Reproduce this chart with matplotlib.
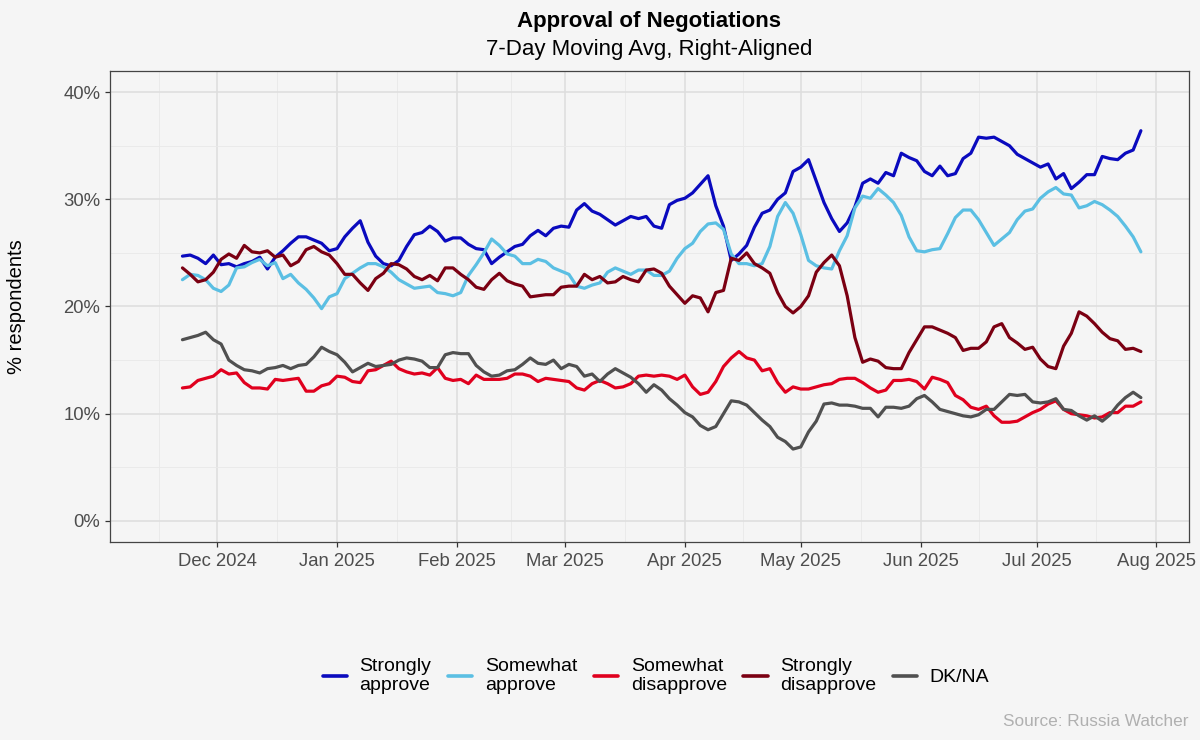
import numpy as np
import pandas as pd
import matplotlib
matplotlib.use("Agg")
import matplotlib.pyplot as plt
import matplotlib.dates as mdates
from matplotlib.ticker import FixedLocator, FuncFormatter

plt.rcParams['font.family'] = ['Liberation Sans', 'DejaVu Sans']

# ---------------- data (7-day moving average, % respondents) ----------------
start_date = "2024-11-22"
step_days = 2

strongly_approve = [
    24.7, 24.8, 24.5, 24.0, 24.8, 23.9, 24.0, 23.7, 24.0, 24.2, 24.6, 23.5, 24.6, 25.2,
    25.9, 26.5, 26.5, 26.2, 25.9, 25.2, 25.4, 26.5, 27.3, 28.0, 26.0, 24.7, 24.0, 23.8, 24.3, 25.6, 26.7, 26.9,
    27.5, 27.0, 26.1, 26.4, 26.4, 25.8, 25.4, 25.3, 24.0, 24.6, 25.1, 25.6, 25.8, 26.6, 27.1, 26.6, 27.3, 27.5, 27.4,
    29.0, 29.6, 28.9, 28.6, 28.1, 27.6, 28.0, 28.4, 28.2, 28.4, 27.5, 27.3, 29.5, 29.9, 30.1, 30.6, 31.4,
    32.2, 29.4, 27.5, 24.3, 24.9, 25.7, 27.4, 28.7, 29.0, 30.0, 30.6, 32.6, 33.0, 33.7, 31.7, 29.7, 28.2, 27.0,
    27.8, 29.3, 31.5, 31.9, 31.5, 32.5, 32.2, 34.3, 33.9, 33.6, 32.6, 32.2, 33.1, 32.2, 32.4, 33.8, 34.3, 35.8, 35.7,
    35.8, 35.4, 35.0, 34.2, 33.8, 33.4, 33.0, 33.3, 31.9, 32.4, 31.0, 31.6, 32.3, 32.3, 34.0, 33.8, 33.7, 34.3, 34.6, 36.4,
]

somewhat_approve = [
    22.5, 23.0, 22.9, 22.5, 21.7, 21.4, 22.0, 23.6, 23.7, 24.1, 24.4, 23.8, 24.1, 22.6,
    23.0, 22.2, 21.6, 20.8, 19.8, 20.9, 21.2, 22.6, 23.1, 23.6, 24.0, 24.0, 23.7, 23.2, 22.5, 22.1, 21.7, 21.8,
    21.9, 21.3, 21.2, 21.0, 21.3, 22.9, 23.9, 25.0, 26.3, 25.7, 24.9, 24.7, 24.0, 24.0, 24.4, 24.2, 23.6, 23.3, 23.0,
    21.9, 21.7, 22.0, 22.2, 23.2, 23.6, 23.3, 23.0, 23.4, 23.4, 22.9, 22.9, 23.3, 24.5, 25.4, 25.9, 27.0,
    27.7, 27.8, 27.2, 24.9, 24.0, 24.0, 23.8, 24.0, 25.6, 28.4, 29.7, 28.7, 26.7, 24.3, 23.8, 23.6, 23.5, 25.2,
    26.6, 29.2, 30.3, 30.1, 31.0, 30.4, 29.7, 28.5, 26.5, 25.2, 25.1, 25.3, 25.4, 26.8, 28.3, 29.0, 29.0, 28.1, 26.9,
    25.7, 26.3, 26.9, 28.1, 28.9, 29.1, 30.1, 30.7, 31.1, 30.5, 30.4, 29.2, 29.4, 29.8, 29.5, 29.0, 28.4, 27.5, 26.5, 25.1,
]

somewhat_disapprove = [
    12.4, 12.5, 13.1, 13.3, 13.5, 14.1, 13.7, 13.8, 12.9, 12.4, 12.4, 12.3, 13.2, 13.1,
    13.2, 13.3, 12.1, 12.1, 12.6, 12.8, 13.5, 13.4, 13.0, 12.9, 14.0, 14.1, 14.5, 14.9, 14.2, 13.9, 13.7, 13.8,
    13.6, 14.3, 13.3, 13.1, 13.2, 12.8, 13.6, 13.2, 13.2, 13.2, 13.3, 13.7, 13.7, 13.5, 13.0, 13.3, 13.2, 13.1, 13.0,
    12.4, 12.2, 12.8, 13.1, 12.8, 12.4, 12.5, 12.8, 13.5, 13.6, 13.5, 13.6, 13.5, 13.2, 13.6, 12.5, 11.8,
    12.0, 13.0, 14.4, 15.2, 15.8, 15.2, 15.0, 14.0, 14.2, 12.9, 12.0, 12.5, 12.3, 12.3, 12.5, 12.7, 12.8, 13.2,
    13.3, 13.3, 12.9, 12.4, 12.0, 12.2, 13.1, 13.1, 13.2, 13.0, 12.3, 13.4, 13.2, 12.9, 11.7, 11.3, 10.6, 10.4, 10.7,
    9.8, 9.2, 9.2, 9.3, 9.7, 10.1, 10.4, 10.9, 11.2, 10.4, 10.0, 9.9, 9.8, 9.6, 9.7, 10.1, 10.1, 10.7, 10.7, 11.1,
]

strongly_disapprove = [
    23.6, 23.0, 22.3, 22.5, 23.2, 24.4, 24.9, 24.5, 25.7, 25.1, 25.0, 25.2, 24.6, 24.8,
    23.8, 24.2, 25.3, 25.6, 25.1, 24.8, 24.0, 23.0, 23.0, 22.2, 21.5, 22.6, 23.1, 24.0, 23.9, 23.5, 22.8, 22.5,
    22.9, 22.4, 23.6, 23.6, 23.0, 22.5, 21.8, 21.6, 22.5, 23.1, 22.4, 22.1, 21.9, 20.9, 21.0, 21.1, 21.1, 21.8, 21.9,
    21.9, 23.0, 22.5, 22.8, 22.2, 22.3, 22.8, 22.5, 22.3, 23.4, 23.5, 23.1, 21.9, 21.1, 20.3, 21.0, 20.8,
    19.5, 21.3, 21.5, 24.5, 24.3, 25.0, 24.0, 23.6, 23.1, 21.3, 20.0, 19.4, 20.0, 21.0, 23.2, 24.1, 24.8, 23.8,
    21.0, 17.1, 14.8, 15.1, 14.9, 14.3, 14.2, 14.2, 15.7, 16.9, 18.1, 18.1, 17.8, 17.5, 17.1, 15.9, 16.1, 16.1, 16.7,
    18.1, 18.4, 17.1, 16.6, 16.0, 16.2, 15.1, 14.4, 14.2, 16.3, 17.5, 19.5, 19.1, 18.4, 17.6, 17.0, 16.8, 16.0, 16.1, 15.8,
]

dk_na = [
    16.9, 17.1, 17.3, 17.6, 16.9, 16.5, 15.0, 14.5, 14.1, 14.0, 13.8, 14.2, 14.3, 14.5,
    14.2, 14.5, 14.6, 15.3, 16.2, 15.8, 15.5, 14.8, 13.9, 14.3, 14.7, 14.4, 14.5, 14.6, 15.0, 15.2, 15.1, 14.9,
    14.3, 14.3, 15.5, 15.7, 15.6, 15.6, 14.5, 13.9, 13.5, 13.6, 14.0, 14.1, 14.6, 15.2, 14.7, 14.6, 15.0, 14.2, 14.6,
    14.4, 13.5, 13.7, 13.0, 13.7, 14.2, 13.8, 13.4, 12.8, 12.0, 12.7, 12.2, 11.4, 10.8, 10.1, 9.7, 8.9,
    8.5, 8.8, 10.0, 11.2, 11.1, 10.8, 10.1, 9.4, 8.8, 7.8, 7.4, 6.7, 6.9, 8.3, 9.3, 10.9, 11.0, 10.8,
    10.8, 10.7, 10.5, 10.5, 9.7, 10.6, 10.6, 10.5, 10.7, 11.4, 11.7, 11.1, 10.4, 10.2, 10.0, 9.8, 9.7, 9.9, 10.4,
    10.4, 11.1, 11.8, 11.7, 11.8, 11.1, 11.0, 11.1, 11.4, 10.4, 10.3, 9.8, 9.4, 9.8, 9.3, 9.9, 10.8, 11.5, 12.0, 11.5,
]

series_names = ["Strongly\napprove", "Somewhat\napprove", "Somewhat\ndisapprove",
                "Strongly\ndisapprove", "DK/NA"]
series_values = [strongly_approve, somewhat_approve, somewhat_disapprove,
                 strongly_disapprove, dk_na]
series_colors = ["#0A0ABE", "#5BBFE3", "#E0001E", "#7B0012", "#505050"]

y_ticks = [0, 10, 20, 30, 40]
title = "Approval of Negotiations"
subtitle = "7-Day Moving Avg, Right-Aligned"
y_label = "% respondents"
caption = "Source: Russia Watcher"

# ---------------- figure ----------------
W, H = 1200, 740
BG = "#F5F5F5"
fig = plt.figure(figsize=(W / 100, H / 100), dpi=100, facecolor=BG)

p_left, p_right, p_top, p_bottom = 109.8, 1188.8, 70.7, 542.3
ax = fig.add_axes([p_left / W, 1 - p_bottom / H, (p_right - p_left) / W, (p_bottom - p_top) / H])
ax.set_facecolor(BG)

dates = pd.date_range(start_date, periods=len(strongly_approve), freq=f"{step_days}D")
for name, vals, col in zip(series_names, series_values, series_colors):
    ax.plot(dates, vals, color=col, lw=2.3, label=name, solid_joinstyle="round",
            solid_capstyle="round", zorder=3)

# axes limits
ref = pd.Timestamp("2024-12-01")
ax.set_xlim(ref - pd.Timedelta(days=27.8), ref + pd.Timedelta(days=251.4))
ax.set_ylim(-2, 42)

# x ticks: month starts, minor at mid-points
month_starts = pd.date_range("2024-11-01", "2025-08-01", freq="MS")
majors = [d for d in month_starts if d >= pd.Timestamp("2024-12-01")]
minors = [month_starts[i] + (month_starts[i + 1] - month_starts[i]) / 2 for i in range(len(month_starts) - 1)]
ax.xaxis.set_major_locator(FixedLocator(mdates.date2num(majors)))
ax.xaxis.set_minor_locator(FixedLocator(mdates.date2num(minors)))
ax.xaxis.set_major_formatter(mdates.DateFormatter("%b %Y"))

ax.yaxis.set_major_locator(FixedLocator(y_ticks))
ax.yaxis.set_minor_locator(FixedLocator([5, 15, 25, 35]))
ax.yaxis.set_major_formatter(FuncFormatter(lambda v, p: f"{v:.0f}%"))

ax.grid(which="major", color="#DDDDDD", lw=1.1, zorder=0)
ax.grid(which="minor", color="#E9E9E9", lw=0.6, zorder=0)
ax.set_axisbelow(True)

ax.tick_params(which="major", length=3.4, width=0.9, color="#333333",
               labelsize=13.3, labelcolor="#4D4D4D")
ax.tick_params(axis="x", which="major", pad=4.5)
ax.tick_params(axis="y", which="major", pad=3.5)
ax.tick_params(which="minor", length=0)
for s in ax.spines.values():
    s.set_color("#444444")
    s.set_linewidth(0.9)

# texts
cx = (p_left + p_right) / 2 / W
fig.text(cx, 1 - 27.0 / H, title, ha="center", va="baseline", fontsize=16,
         fontweight="bold", color="black")
fig.text(cx, 1 - 55.5 / H, subtitle, ha="center", va="baseline", fontsize=16, color="black")
fig.text(17 / W, 1 - (p_top + p_bottom) / 2 / H, y_label, rotation=90, ha="center",
         va="center", fontsize=14.5, color="black")
fig.text(p_right / W, 1 - 721.7 / H, caption, ha="right", va="center", fontsize=12.4,
         color="#B0B0B0")

leg = fig.legend(loc="center", bbox_to_anchor=(656 / W, 1 - 676 / H), ncol=5,
                 frameon=False, fontsize=14, handlelength=1.25, handletextpad=0.65,
                 columnspacing=0.85, labelspacing=0.2)
for t in leg.get_texts():
    t.set_linespacing(1.1)
for h in leg.get_lines():
    h.set_linewidth(2.6)

fig.savefig("out.png", dpi=100, facecolor=BG)
